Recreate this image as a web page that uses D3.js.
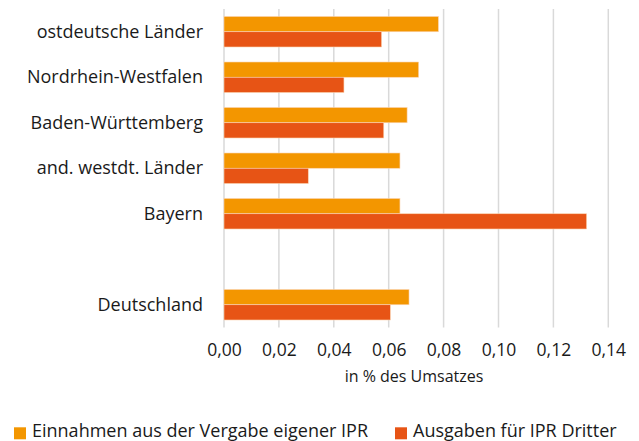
<!DOCTYPE html>
<html>
<head>
<meta charset="utf-8">
<script src="https://cdn.jsdelivr.net/npm/d3@7"></script>
<style>
  body { margin: 0; background: #fff; }
  text { font-family: "Open Sans", "Noto Sans", sans-serif; fill: #1a1a1a; }
</style>
</head>
<body>
<svg id="chart" width="639" height="441"></svg>
<script>
// Kategorien (leere Zeile als Abstand vor Deutschland)
const categories = ['ostdeutsche Länder', 'Nordrhein-Westfalen', 'Baden-Württemberg',
  'and. westdt. Länder', 'Bayern', '', 'Deutschland'];
const einnahmen = [0.0781, 0.0709, 0.0667, 0.0641, 0.0641, null, 0.0674];
const ausgaben = [0.0574, 0.0437, 0.0582, 0.0307, 0.1321, null, 0.0606];
const seriesNames = ['Einnahmen aus der Vergabe eigener IPR', 'Ausgaben für IPR Dritter'];
const ticks = [0, 0.02, 0.04, 0.06, 0.08, 0.10, 0.12, 0.14];
const xTitle = 'in % des Umsatzes';

const colors = ['#f39600', '#e75415'];
const fmt = d => d.toFixed(2).replace('.', ',');

const svg = d3.select('#chart');
const plotLeft = 224, plotRight = 608.3, plotTop = 9, plotBottom = 327.5;

let x = d3.scaleLinear().domain([0, 0.14]).range([plotLeft, plotRight]);
let y = d3.scaleBand().domain(categories).range([plotTop, plotBottom]).paddingInner(0.33).paddingOuter(0.165);
let sub = d3.scaleBand().domain([0, 1]).range([0, y.bandwidth()]);

// gitternetz
svg.append('g')
  .selectAll('line')
  .data(ticks)
  .join('line')
  .attr('x1', d => x(d)).attr('x2', d => x(d))
  .attr('y1', plotTop).attr('y2', plotBottom)
  .attr('stroke', '#d9d9d9')
  .attr('stroke-width', 1.5);

const series = [einnahmen, ausgaben];
series.forEach(function (vals, s) {
  svg.append('g')
    .selectAll('rect')
    .data(categories.map((c, i) => ({ cat: c, v: vals[i] })).filter(d => d.v != null))
    .join('rect')
    .attr('x', x(0))
    .attr('y', d => y(d.cat) + sub(s))
    .attr('width', d => x(d.v) - x(0))
    .attr('height', sub.bandwidth())
    .attr('fill', colors[s])
    .attr('stroke', '#fbd3b0')
    .attr('stroke-width', 0.6);
});

// x achse
const xAxis = svg.append('g')
  .attr('transform', `translate(0,${plotBottom})`)
  .call(d3.axisBottom(x).tickValues(ticks).tickFormat(fmt).tickSize(0).tickPadding(16.5));
xAxis.select('.domain').remove();
xAxis.selectAll('text').style('font-size', '17.5px').attr('fill', '#1a1a1a');

// y achse
const yAxis = svg.append('g')
  .attr('transform', `translate(${plotLeft - 21},0)`)
  .call(d3.axisLeft(y).tickSize(0).tickPadding(0));
yAxis.select('.domain').remove();
yAxis.selectAll('text').style('font-size', '18px').attr('fill', '#1a1a1a');

svg.append('text')
  .attr('x', 414).attr('y', 381.5)
  .attr('text-anchor', 'middle')
  .style('font-size', '16px')
  .text(xTitle);

// legende
const legendX = [14, 395];
const legend = svg.append('g');
seriesNames.forEach(function (name, i) {
  legend.append('rect')
    .attr('x', legendX[i]).attr('y', 427.3)
    .attr('width', 12).attr('height', 12)
    .attr('fill', colors[i]);
  legend.append('text')
    .attr('x', legendX[i] + 18).attr('y', 436.8)
    .style('font-size', '18px')
    .text(name);
});
</script>
</body>
</html>
